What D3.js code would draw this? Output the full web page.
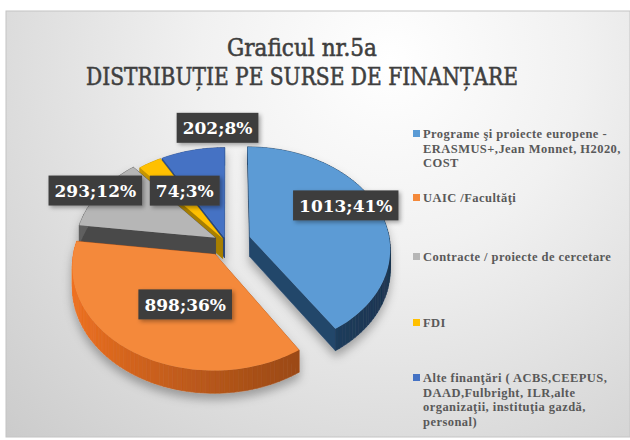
<!DOCTYPE html>
<html>
<head>
<meta charset="utf-8">
<script src="https://cdn.jsdelivr.net/npm/d3@7"></script>
<style>
  body { margin: 0; background: #fff; }
  svg { display: block; }
</style>
</head>
<body>
<div id="chart"></div>
<script>
// data
const titleLines = ['Graficul nr.5a', 'DISTRIBUȚIE PE SURSE DE FINANȚARE']
const categories = [
  'Programe şi proiecte europene - ERASMUS+,Jean Monnet, H2020, COST',
  'UAIC /Facultăţi',
  'Contracte / proiecte de cercetare',
  'FDI',
  'Alte finanţări ( ACBS,CEEPUS, DAAD,Fulbright, ILR,alte organizaţii, instituţia gazdă, personal)'
]
const legendLines = [
  ['Programe şi proiecte europene -', 'ERASMUS+,Jean Monnet, H2020,', 'COST'],
  ['UAIC /Facultăţi'],
  ['Contracte / proiecte de cercetare'],
  ['FDI'],
  ['Alte finanţări ( ACBS,CEEPUS,', 'DAAD,Fulbright, ILR,alte', 'organizaţii, instituţia gazdă,', 'personal)']
]
const values = [1013, 898, 293, 74, 202]

// styles
const topColors = ['#5b9bd5', '#f4893a', '#b6b6b6', '#ffc000', '#4472c4']
const sideColors = ['#24466b', '#b5561a', '#4a4a4a', '#a87f00', '#27467f']
const explode = [25, 20, 12, 6, 6]
// label placement: [angle shift in degrees, radius factor]
const labelPlace = [[-8, 0.79], [-9, 0.5], [0, 1.04], [5, 0.58], [12, 1.25]]
const legendY = [134, 198, 257, 323, 378]

const W = 630
const H = 440
const cx = 226
const cy = 242
const rx = 140
const tilt = 0.72
const D = 1300
const depth = 20

const svg = d3.select('#chart').append('svg').attr('width', W).attr('height', H)
const defs = svg.append('defs')

const bg = defs.append('radialGradient')
  .attr('id', 'bg')
  .attr('gradientUnits', 'userSpaceOnUse')
  .attr('cx', 390).attr('cy', 60).attr('r', 540)
bg.append('stop').attr('offset', '0%').attr('stop-color', '#ffffff')
bg.append('stop').attr('offset', '35%').attr('stop-color', '#f1f1f1')
bg.append('stop').attr('offset', '100%').attr('stop-color', '#cbcbcb')

const pieShadow = defs.append('filter').attr('id', 'pieShadow')
  .attr('x', '-20%').attr('y', '-20%').attr('width', '140%').attr('height', '150%')
pieShadow.append('feDropShadow')
  .attr('dx', 0).attr('dy', 6).attr('stdDeviation', 5)
  .attr('flood-color', '#000').attr('flood-opacity', 0.3)

const boxShadow = defs.append('filter').attr('id', 'boxShadow')
  .attr('x', '-20%').attr('y', '-30%').attr('width', '150%').attr('height', '180%')
boxShadow.append('feDropShadow')
  .attr('dx', 2).attr('dy', 2).attr('stdDeviation', 2)
  .attr('flood-color', '#000').attr('flood-opacity', 0.35)

// background frame
svg.append('rect')
  .attr('x', 6).attr('y', 11).attr('width', W - 6).attr('height', 426)
  .attr('fill', 'url(#bg)')
  .attr('stroke', '#c4c4c4')

// title
svg.append('g').selectAll('text')
  .data(titleLines)
  .enter()
  .append('text')
  .attr('x', 302)
  .attr('y', (d, i) => 56 + i * 29)
  .attr('text-anchor', 'middle')
  .attr('font-family', '"DejaVu Serif", serif')
  .attr('font-size', 24)
  .attr('fill', '#3f3f3f')
  .attr('stroke', '#3f3f3f')
  .attr('stroke-width', 0.6)
  .attr('textLength', (d, i) => i === 0 ? 150 : 432)
  .attr('lengthAdjust', 'spacingAndGlyphs')
  .text(d => d)

// 3d pie
const pie = d3.pie().sort(null).value(d => d)
const arcs = pie(values).map((a, i) => {
  const mid = (a.startAngle + a.endAngle) / 2
  return { ...a, i, mid, off: [Math.sin(mid) * explode[i], Math.cos(mid) * explode[i]] }
})

const proj = (u, far, h) => {
  const s = D / (D + far)
  return [cx + u * s, cy - far * tilt * s + h * s]
}
const pt = (a, r, off, h) => proj(off[0] + Math.sin(a) * r, off[1] + Math.cos(a) * r, h)
const line = d3.line()

const pieG = svg.append('g').attr('filter', 'url(#pieShadow)')

const order = arcs.slice().sort((a, b) => Math.cos(b.mid) - Math.cos(a.mid))

order.forEach(a => {
  const g = pieG.append('g')
  const steps = Math.max(4, Math.ceil((a.endAngle - a.startAngle) / 0.03))
  const angles = d3.range(steps + 1).map(k => a.startAngle + (a.endAngle - a.startAngle) * k / steps)

  // radial walls
  ;[a.startAngle, a.endAngle].forEach(ang => {
    const poly = [pt(ang, 0, a.off, 0), pt(ang, rx, a.off, 0), pt(ang, rx, a.off, depth), pt(ang, 0, a.off, depth)]
    g.append('path')
      .attr('d', line(poly) + 'Z')
      .attr('fill', sideColors[a.i])
      .attr('stroke', sideColors[a.i])
      .attr('stroke-width', 0.6)
  })

  // outer wall, shaded by direction
  for (let k = 0; k < steps; k++) {
    const a0 = angles[k]
    const a1 = angles[k + 1]
    const m = (a0 + a1) / 2
    const c = d3.color(sideColors[a.i]).brighter(-0.8 * Math.sin(m)).formatHex()
    const poly = [pt(a0, rx, a.off, 0), pt(a1, rx, a.off, 0), pt(a1, rx, a.off, depth), pt(a0, rx, a.off, depth)]
    g.append('path')
      .attr('d', line(poly) + 'Z')
      .attr('fill', c)
      .attr('stroke', c)
      .attr('stroke-width', 0.6)
  }

  // top face
  const topPoly = [pt(0, 0, a.off, 0)].concat(angles.map(ang => pt(ang, rx, a.off, 0)))
  g.append('path')
    .attr('d', line(topPoly) + 'Z')
    .attr('fill', topColors[a.i])
})

// data labels
const total = d3.sum(values)
const labelG = svg.append('g')
arcs.forEach(a => {
  const p = labelPlace[a.i]
  const ang = a.mid + p[0] * Math.PI / 180
  const pos = pt(ang, rx * p[1], a.off, 0)
  const g = labelG.append('g').attr('transform', `translate(${pos[0]},${pos[1]})`)
  const rect = g.append('rect').attr('fill', '#3d3d3d').attr('filter', 'url(#boxShadow)')
  const t = g.append('text')
    .attr('text-anchor', 'middle')
    .attr('dy', '0.36em')
    .attr('font-family', '"DejaVu Serif", serif')
    .attr('font-weight', 'bold')
    .attr('font-size', 17)
    .attr('fill', '#ffffff')
    .text(`${values[a.i]};${Math.round(values[a.i] / total * 100)}%`)
  const w = t.node().getComputedTextLength() + 12
  rect.attr('x', -w / 2).attr('y', -15).attr('width', w).attr('height', 30)
})

// legend
const legend = svg.append('g').selectAll('g')
  .data(categories)
  .enter()
  .append('g')
  .attr('transform', (d, i) => `translate(413,${legendY[i]})`)

legend.append('rect')
  .attr('x', 0).attr('y', -4)
  .attr('width', 7).attr('height', 7)
  .attr('fill', (d, i) => topColors[i])

legend.append('text')
  .attr('font-family', '"Liberation Serif", serif')
  .attr('font-weight', 'bold')
  .attr('font-size', 12.5)
  .attr('letter-spacing', 0.45)
  .attr('fill', '#595959')
  .selectAll('tspan')
  .data((d, i) => legendLines[i])
  .enter()
  .append('tspan')
  .attr('x', 10)
  .attr('y', (d, k) => 4 + k * 14.7)
  .text(d => d)
</script>
</body>
</html>
